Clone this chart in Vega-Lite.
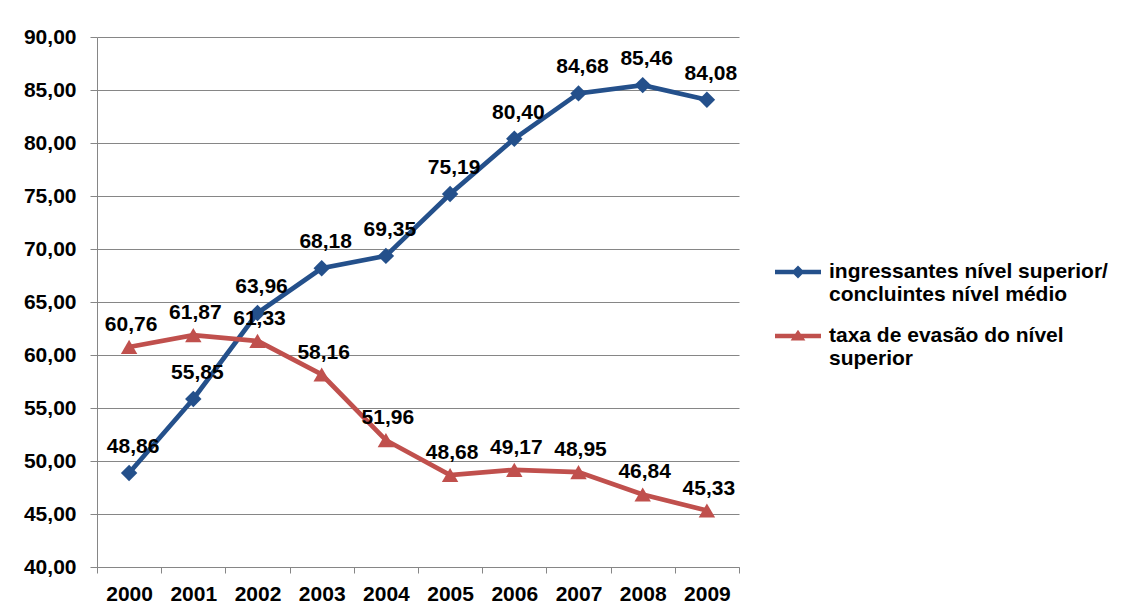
{
  "$schema": "https://vega.github.io/schema/vega-lite/v6.json",
  "width": 642,
  "height": 530,
  "autosize": {"type": "none"},
  "padding": {"left": 97, "top": 37, "right": 385, "bottom": 45},
  "background": "white",
  "config": {
    "view": {"stroke": null},
    "font": "Liberation Sans",
    "locale": {"number": {"decimal": ",", "thousands": ".", "grouping": [3], "currency": ["R$", ""]}}
  },
  "data": {
    "values": [
      {"year": "2000", "series": "A", "value": 48.86},
      {"year": "2001", "series": "A", "value": 55.85},
      {"year": "2002", "series": "A", "value": 63.96},
      {"year": "2003", "series": "A", "value": 68.18},
      {"year": "2004", "series": "A", "value": 69.35},
      {"year": "2005", "series": "A", "value": 75.19},
      {"year": "2006", "series": "A", "value": 80.40},
      {"year": "2007", "series": "A", "value": 84.68},
      {"year": "2008", "series": "A", "value": 85.46},
      {"year": "2009", "series": "A", "value": 84.08},
      {"year": "2000", "series": "B", "value": 60.76},
      {"year": "2001", "series": "B", "value": 61.87},
      {"year": "2002", "series": "B", "value": 61.33},
      {"year": "2003", "series": "B", "value": 58.16},
      {"year": "2004", "series": "B", "value": 51.96},
      {"year": "2005", "series": "B", "value": 48.68},
      {"year": "2006", "series": "B", "value": 49.17},
      {"year": "2007", "series": "B", "value": 48.95},
      {"year": "2008", "series": "B", "value": 46.84},
      {"year": "2009", "series": "B", "value": 45.33}
    ]
  },
  "encoding": {
    "x": {
      "field": "year", "type": "ordinal",
      "scale": {"type": "band", "paddingInner": 0, "paddingOuter": 0},
      "axis": {
        "title": null, "tickBand": "extent", "labelAngle": 0,
        "domainColor": "#868686", "tickColor": "#868686", "tickSize": 6,
        "labelFontSize": 21, "labelFontWeight": "bold", "labelColor": "black",
        "labelPadding": 10, "grid": false
      }
    },
    "y": {
      "field": "value", "type": "quantitative",
      "scale": {"domain": [40, 90], "nice": false, "zero": false},
      "axis": {
        "title": null, "values": [40, 45, 50, 55, 60, 65, 70, 75, 80, 85, 90],
        "format": ".2f", "gridColor": "#868686", "gridOpacity": 1,
        "domainColor": "#868686", "tickColor": "#868686", "tickSize": 7,
        "labelFontSize": 21, "labelFontWeight": "bold", "labelColor": "black",
        "labelPadding": 14
      }
    },
    "color": {
      "field": "series", "type": "nominal",
      "scale": {"domain": ["A", "B"], "range": ["#24508B", "#C0504D"]},
      "legend": null
    }
  },
  "layer": [
    {
      "mark": {"type": "line", "strokeWidth": 4.7}
    },
    {
      "mark": {"type": "point", "filled": true, "opacity": 1, "size": 270},
      "encoding": {
        "shape": {
          "field": "series", "type": "nominal",
          "scale": {"domain": ["A", "B"], "range": ["diamond", "triangle-up"]},
          "legend": null
        }
      }
    },
    {
      "mark": {"type": "point", "filled": true, "opacity": 0, "size": 10},
      "encoding": {
        "fill": {
          "field": "series", "type": "nominal",
          "scale": {"domain": ["A", "B"], "range": ["#24508B", "#C0504D"]},
          "legend": {
            "title": null, "orient": "none", "legendX": 678, "legendY": 212,
            "symbolSize": 2116, "symbolOpacity": 1, "symbolStrokeWidth": 0,
            "labelFontSize": 21, "labelFontWeight": "bold", "labelColor": "black",
            "labelLimit": 0, "labelOffset": 8, "rowPadding": 8, "padding": 0,
            "labelBaseline": "middle", "labelLineHeight": 27,
            "labelExpr": "datum.value == 'A' ? ['ingressantes nível superior/', 'concluintes nível médio'] : ['taxa de evasão do nível', 'superior']",
            "encode": {"labels": {"dy": {"value": 13.5}}}
          }
        },
        "shape": {
          "field": "series", "type": "nominal",
          "scale": {"domain": ["A", "B"], "range": [
            "M-1,-0.1L1,-0.1L1,0.1L-1,0.1Z M0,-0.28L0.28,0L0,0.28L-0.28,0Z",
            "M-1,-0.1L1,-0.1L1,0.1L-1,0.1Z M0,-0.27L0.32,0.2L-0.32,0.2Z"
          ]},
          "legend": {
            "title": null, "orient": "none", "legendX": 678, "legendY": 212,
            "symbolSize": 2116, "symbolOpacity": 1, "symbolStrokeWidth": 0,
            "labelFontSize": 21, "labelFontWeight": "bold", "labelColor": "black",
            "labelLimit": 0, "labelOffset": 8, "rowPadding": 8, "padding": 0,
            "labelBaseline": "middle", "labelLineHeight": 27,
            "labelExpr": "datum.value == 'A' ? ['ingressantes nível superior/', 'concluintes nível médio'] : ['taxa de evasão do nível', 'superior']",
            "encode": {"labels": {"dy": {"value": 13.5}}}
          }
        }
      }
    },
    {
      "transform": [{"filter": "datum.series == 'A'"}],
      "mark": {"type": "text", "fontSize": 21, "fontWeight": "bold", "dy": -26, "dx": 4},
      "encoding": {
        "text": {"field": "value", "type": "quantitative", "format": ".2f"},
        "color": {"value": "black"}
      }
    },
    {
      "transform": [{"filter": "datum.series == 'B'"}],
      "mark": {"type": "text", "fontSize": 21, "fontWeight": "bold", "dy": -22, "dx": 2},
      "encoding": {
        "text": {"field": "value", "type": "quantitative", "format": ".2f"},
        "color": {"value": "black"}
      }
    }
  ],
  "resolve": {"scale": {"shape": "independent", "fill": "independent"}}
}
